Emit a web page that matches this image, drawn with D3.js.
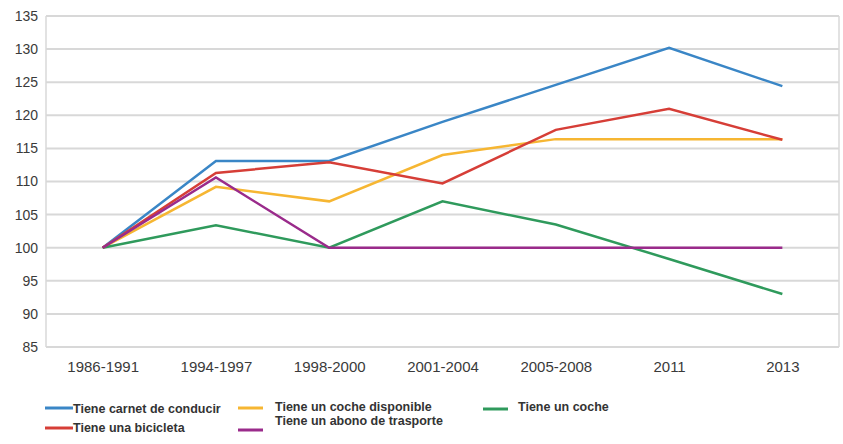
<!DOCTYPE html>
<html>
<head>
<meta charset="utf-8">
<script src="https://cdn.jsdelivr.net/npm/d3@7"></script>
<style>
  html, body { margin: 0; padding: 0; background: #fff; }
  svg { display: block; font-family: "Liberation Sans", Arial, sans-serif; }
</style>
</head>
<body>
<svg id="chart" width="843" height="444"></svg>
<script>
// Periods on the x axis
const periods = ["1986-1991", "1994-1997", "1998-2000", "2001-2004", "2005-2008", "2011", "2013"];

// Index values (base 100 = 1986-1991)
const carnet    = [100, 113.1, 113.1, 119.0, 124.6, 130.2, 124.4];
const cocheDisp = [100, 109.2, 107.0, 114.0, 116.4, 116.4, 116.4];
const coche     = [100, 103.4, 100.0, 107.0, 103.5, 98.3, 93.0];
const bicicleta = [100, 111.3, 112.9, 109.7, 117.8, 121.0, 116.3];
const abono     = [100, 110.6, 100.0, 100.0, 100.0, 100.0, 100.0];

const yTicks = [85, 90, 95, 100, 105, 110, 115, 120, 125, 130, 135];

const seriesNames  = ["Tiene carnet de conducir", "Tiene un coche disponible", "Tiene un coche",
                      "Tiene una bicicleta", "Tiene un abono de trasporte"];
const seriesValues = [carnet, cocheDisp, coche, bicicleta, abono];
const seriesColors = ["#3a86c6", "#f6b632", "#2f9a5c", "#d63e37", "#9a2b8b"];

const svg = d3.select("#chart");
const plot = { left: 46, right: 839, top: 16, bottom: 347 };

const x = d3.scalePoint().domain(periods).range([plot.left, plot.right]).padding(0.5);
const y = d3.scaleLinear().domain([85, 135]).range([plot.bottom, plot.top]);

// Horizontal gridlines
svg.append("g")
  .selectAll("line")
  .data(yTicks)
  .join("line")
  .attr("x1", plot.left).attr("x2", plot.right)
  .attr("y1", d => y(d)).attr("y2", d => y(d))
  .attr("stroke", "#d8d8d8").attr("stroke-width", 2);

// Plot frame (left and right edges)
svg.append("line").attr("x1", plot.left).attr("x2", plot.left)
  .attr("y1", plot.top).attr("y2", plot.bottom)
  .attr("stroke", "#d8d8d8").attr("stroke-width", 1.5);
svg.append("line").attr("x1", plot.right).attr("x2", plot.right)
  .attr("y1", plot.top).attr("y2", plot.bottom)
  .attr("stroke", "#d8d8d8").attr("stroke-width", 1.5);

// Y axis labels
const yAxis = svg.append("g")
  .attr("transform", `translate(${plot.left - 8},0)`)
  .call(d3.axisLeft(y).tickValues(yTicks).tickSize(0).tickPadding(0));
yAxis.select(".domain").remove();
yAxis.selectAll("text")
  .attr("font-size", 14).attr("fill", "#3a3a3a")
  .attr("font-family", "Liberation Sans, Arial, sans-serif");

// X axis labels
const xAxis = svg.append("g")
  .attr("transform", `translate(0,${plot.bottom + 8})`)
  .call(d3.axisBottom(x).tickSize(0).tickPadding(6));
xAxis.select(".domain").remove();
xAxis.selectAll("text")
  .attr("font-size", 15).attr("fill", "#3a3a3a")
  .attr("font-family", "Liberation Sans, Arial, sans-serif");

// Series lines
const line = d3.line().x((d, i) => x(periods[i])).y(d => y(d));
svg.append("g")
  .selectAll("path")
  .data(seriesValues)
  .join("path")
  .attr("d", d => line(d))
  .attr("fill", "none")
  .attr("stroke", (d, i) => seriesColors[i])
  .attr("stroke-width", 2.5)
  .attr("stroke-linejoin", "miter");

// Legend: swatch line and label for each series
const legendItems = [
  { lx: 45,  ly: 408, len: 28, tx: 73,  ty: 409 },
  { lx: 238, ly: 408, len: 25, tx: 275, ty: 407 },
  { lx: 483, ly: 409, len: 25, tx: 518, ty: 407 },
  { lx: 45,  ly: 428, len: 28, tx: 73,  ty: 428 },
  { lx: 238, ly: 430, len: 25, tx: 275, ty: 421 }
];
const legend = svg.append("g");
seriesNames.forEach((name, i) => {
  const p = legendItems[i];
  legend.append("line")
    .attr("x1", p.lx).attr("x2", p.lx + p.len)
    .attr("y1", p.ly).attr("y2", p.ly)
    .attr("stroke", seriesColors[i]).attr("stroke-width", 3);
  legend.append("text")
    .attr("x", p.tx)
    .attr("y", p.ty)
    .attr("dy", "0.35em")
    .attr("font-size", 12.5).attr("font-weight", "bold")
    .attr("fill", "#333")
    .text(name);
});
</script>
</body>
</html>
